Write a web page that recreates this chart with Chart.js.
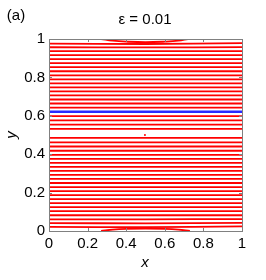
<!DOCTYPE html>
<html>
<head>
<meta charset="utf-8">
<script src="https://cdn.jsdelivr.net/npm/chart.js@4/dist/chart.umd.min.js"></script>
<style>
html,body{margin:0;padding:0;background:#fff;}
#wrap{width:266px;height:280px;}
</style>
</head>
<body>
<div id="wrap"><canvas id="c" width="266" height="280"></canvas></div>
<script>
// ---- data ----
const xTicks = [0, 0.2, 0.4, 0.6, 0.8, 1];
const yTicks = [0, 0.2, 0.4, 0.6, 0.8, 1];
const tickLabels = ['0', '0.2', '0.4', '0.6', '0.8', '1'];
const titleText = 'ε = 0.01';
const panelLabel = '(a)';
const xTitle = 'x';
const yTitle = 'y';

// streamline levels (left edge, middle, right edge)
const redLeft  = [0.022,0.041,0.061,0.082,0.103,0.124,0.145,0.166,0.187,0.208,0.229,0.250,0.271,0.292,0.313,0.334,0.355,0.376,0.397,0.418,0.440,0.462,0.485,
                  0.532,0.554,0.576,0.598,0.643,0.664,0.685,0.706,0.727,0.748,0.769,0.790,0.811,0.832,0.853,0.874,0.895,0.916,0.937,0.957,0.976];
const redMid   = [0.020,0.040,0.061,0.082,0.103,0.124,0.145,0.166,0.187,0.208,0.229,0.250,0.271,0.292,0.313,0.334,0.355,0.376,0.397,0.418,0.440,0.462,0.485,
                  0.532,0.554,0.576,0.598,0.643,0.664,0.685,0.706,0.727,0.748,0.769,0.790,0.811,0.832,0.853,0.874,0.895,0.916,0.937,0.956,0.974];
const redRight = [0.024,0.042,0.062,0.082,0.103,0.124,0.145,0.166,0.187,0.208,0.229,0.250,0.271,0.292,0.313,0.334,0.355,0.376,0.397,0.418,0.440,0.462,0.485,
                  0.532,0.554,0.576,0.598,0.643,0.664,0.685,0.706,0.727,0.748,0.769,0.790,0.811,0.832,0.853,0.874,0.895,0.916,0.937,0.958,0.978];
const blueLevel = 0.621;

const topArcX = [0.27, 0.33, 0.40, 0.50, 0.60, 0.67, 0.72];
const topArcY = [1.000, 0.991, 0.986, 0.983, 0.986, 0.991, 1.000];
const botArcX = [0.27, 0.33, 0.40, 0.50, 0.60, 0.67, 0.73];
const botArcY = [0.000, 0.007, 0.011, 0.013, 0.011, 0.007, 0.000];
const centerPt = {x: 0.497, y: 0.50};

const RED = '#ff0000';
const BLUE = '#2a2aff';
const FONT = '"Liberation Sans", Arial, sans-serif';

const datasets = [];
redLeft.forEach((v, i) => {
  datasets.push({
    data: [{x: 0, y: v}, {x: 0.5, y: redMid[i]}, {x: 1, y: redRight[i]}],
    borderColor: RED, borderWidth: 1.8, pointRadius: 0, showLine: true, tension: 0.4, fill: false
  });
});
datasets.push({
  data: [{x: 0, y: blueLevel}, {x: 1, y: blueLevel}],
  borderColor: BLUE, borderWidth: 2.4, pointRadius: 0, showLine: true, fill: false
});
datasets.push({
  data: topArcX.map((x, i) => ({x, y: topArcY[i]})),
  borderColor: RED, borderWidth: 1.8, pointRadius: 0, showLine: true, tension: 0.4, fill: false
});
datasets.push({
  data: botArcX.map((x, i) => ({x, y: botArcY[i]})),
  borderColor: RED, borderWidth: 1.8, pointRadius: 0, showLine: true, tension: 0.4, fill: false
});
datasets.push({
  data: [centerPt],
  borderColor: RED, backgroundColor: RED, pointRadius: 1, borderWidth: 0, showLine: false
});

const decor = {
  id: 'decor',
  afterDatasetsDraw(chart) {
    const {ctx, chartArea: a, scales} = chart;
    ctx.save();
    ctx.strokeStyle = '#808080';
    ctx.lineWidth = 1;
    // inward ticks on all four sides
    const tl = 3;
    ctx.beginPath();
    xTicks.forEach(v => {
      const px = Math.round(scales.x.getPixelForValue(v)) + 0.5;
      ctx.moveTo(px, a.bottom); ctx.lineTo(px, a.bottom - tl);
      ctx.moveTo(px, a.top); ctx.lineTo(px, a.top + tl);
    });
    yTicks.forEach(v => {
      const py = Math.round(scales.y.getPixelForValue(v)) + 0.5;
      ctx.moveTo(a.left, py); ctx.lineTo(a.left + tl, py);
      ctx.moveTo(a.right, py); ctx.lineTo(a.right - tl, py);
    });
    ctx.stroke();
    ctx.strokeRect(Math.round(a.left) + 0.5, Math.round(a.top) + 0.5,
                   Math.round(a.right - a.left), Math.round(a.bottom - a.top));
    // texts
    ctx.fillStyle = '#000';
    ctx.textAlign = 'center';
    ctx.textBaseline = 'middle';
    ctx.font = '15px ' + FONT;
    ctx.fillText(titleText, 145, 20);
    ctx.fillText(panelLabel, 16, 16);
    ctx.font = 'italic 15px ' + FONT;
    ctx.fillText(xTitle, 145, 263);
    ctx.translate(12, 135);
    ctx.rotate(-Math.PI / 2);
    ctx.fillText(yTitle, 0, 0);
    ctx.restore();
  }
};

new Chart(document.getElementById('c'), {
  type: 'scatter',
  data: {datasets},
  options: {
    responsive: false,
    animation: false,
    events: [],
    layout: {padding: {left: 0, right: 24, top: 39, bottom: 0}},
    plugins: {legend: {display: false}, tooltip: {enabled: false}, title: {display: false}},
    scales: {
      x: {
        type: 'linear', min: 0, max: 1,
        afterBuildTicks: s => { s.ticks = xTicks.map(v => ({value: v})); },
        afterFit: s => { s.height = 49; },
        grid: {display: false, drawTicks: false},
        border: {display: false},
        ticks: {
          padding: 4, color: '#000', maxRotation: 0, autoSkip: false,
          font: {family: FONT, size: 15},
          callback: (v) => tickLabels[xTicks.indexOf(v)]
        }
      },
      y: {
        type: 'linear', min: 0, max: 1,
        afterBuildTicks: s => { s.ticks = yTicks.map(v => ({value: v})); },
        afterFit: s => { s.width = 49; },
        grid: {display: false, drawTicks: false},
        border: {display: false},
        ticks: {
          padding: 4, color: '#000', autoSkip: false,
          font: {family: FONT, size: 15},
          callback: (v) => tickLabels[yTicks.indexOf(v)]
        }
      }
    }
  },
  plugins: [decor]
});
</script>
</body>
</html>
